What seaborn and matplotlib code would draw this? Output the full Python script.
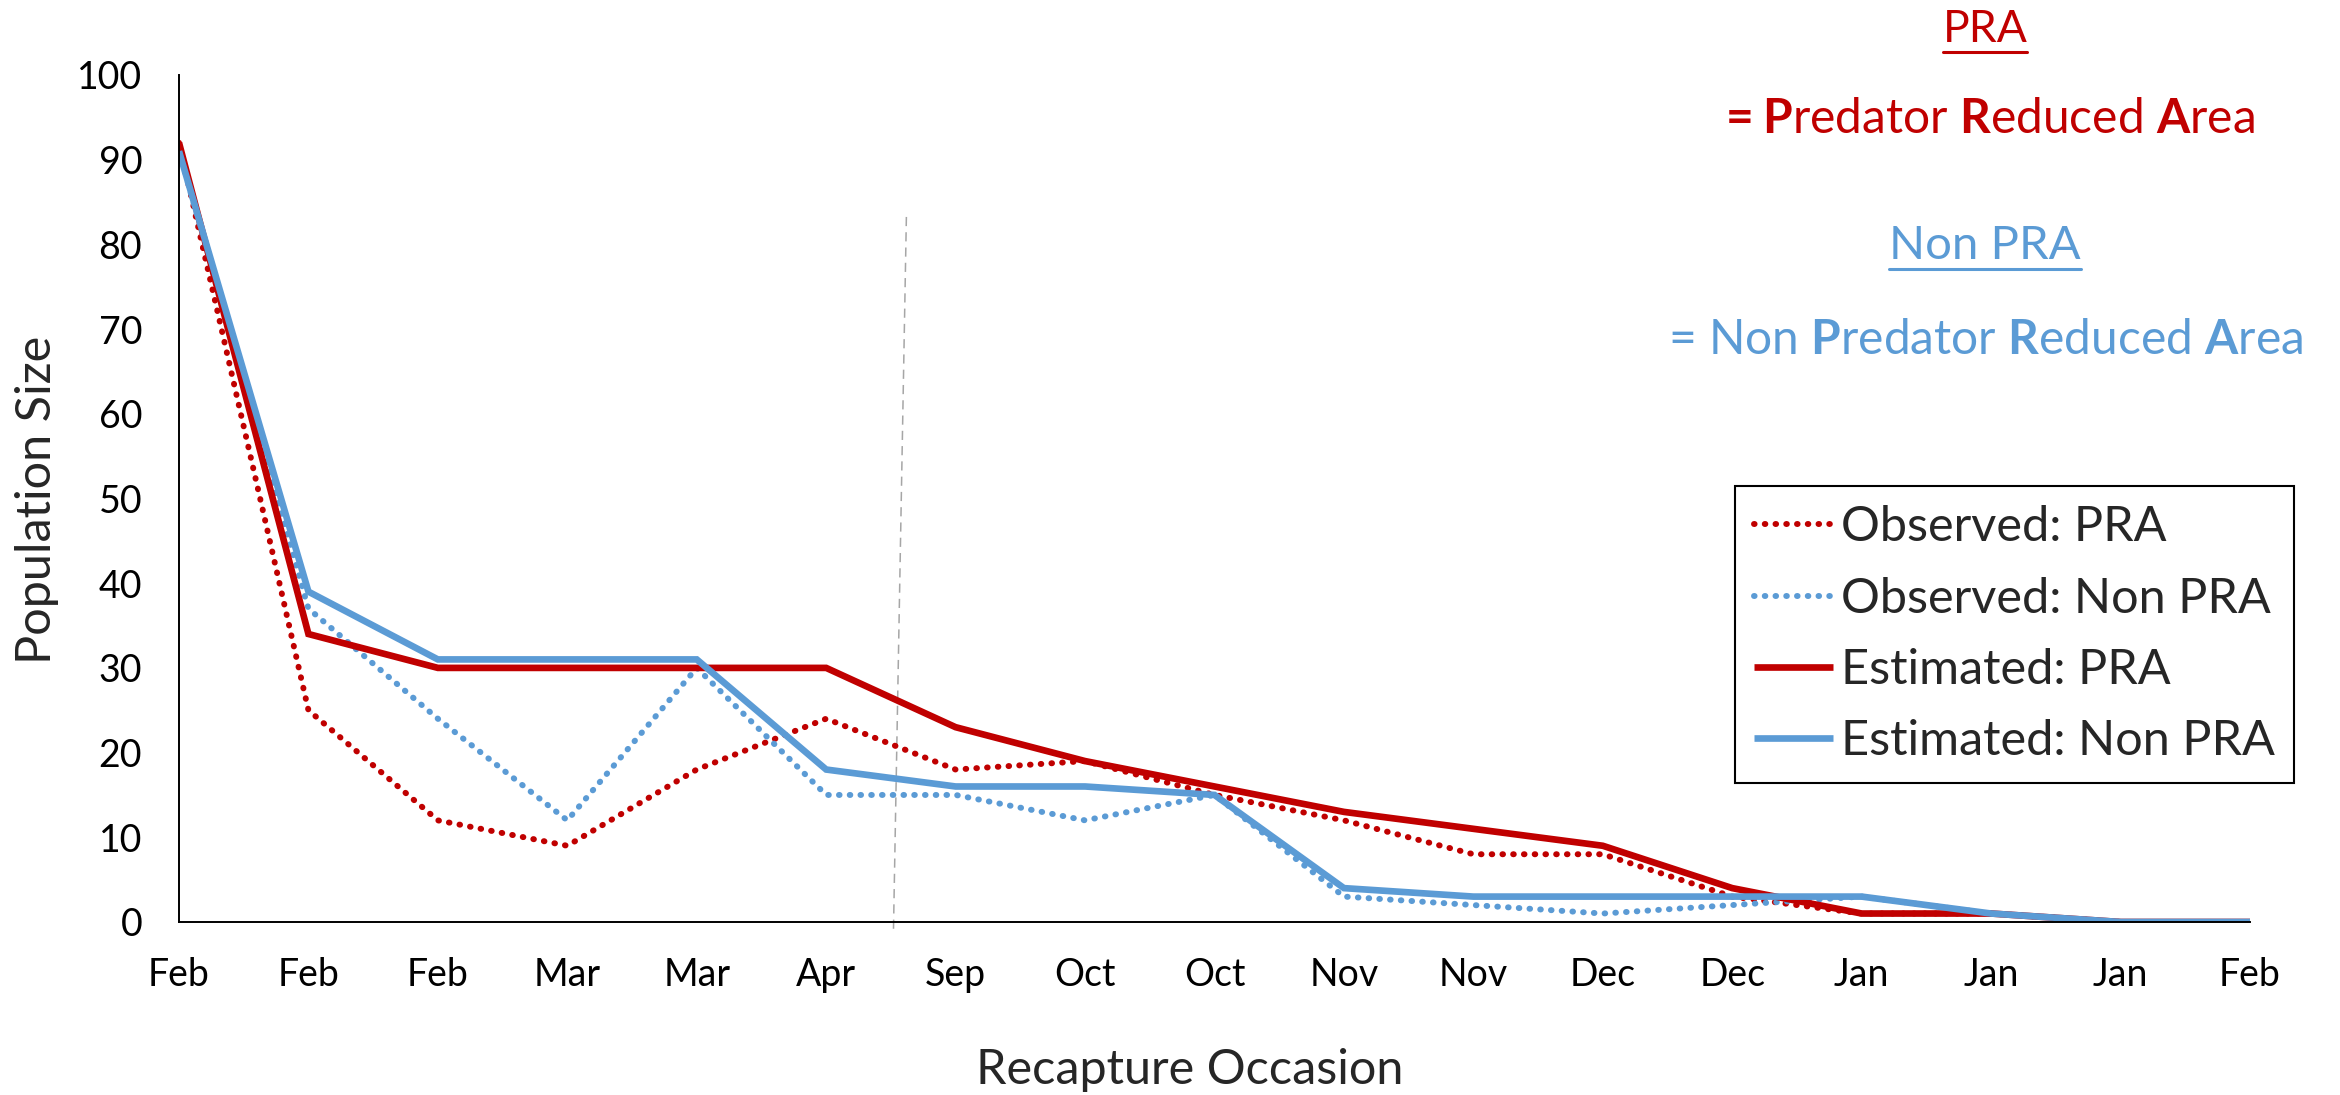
import matplotlib
matplotlib.use("Agg")
import matplotlib.pyplot as plt
from matplotlib.lines import Line2D
import seaborn as sns
import pandas as pd

# ---------------- data ----------------
occasions = ["Feb", "Feb", "Feb", "Mar", "Mar", "Apr", "Sep", "Oct", "Oct",
             "Nov", "Nov", "Dec", "Dec", "Jan", "Jan", "Jan", "Feb"]
observed_pra = [92, 25, 12, 9, 18, 24, 18, 19, 15, 12, 8, 8, 3, 1, 1, 0, 0]
observed_non_pra = [91, 37, 24, 12, 30, 15, 15, 12, 15, 3, 2, 1, 2, 3, 1, 0, 0]
estimated_pra = [92, 34, 30, 30, 30, 30, 23, 19, 16, 13, 11, 9, 4, 1, 1, 0, 0]
estimated_non_pra = [91, 39, 31, 31, 31, 18, 16, 16, 15, 4, 3, 3, 3, 3, 1, 0, 0]
series_names = ["Observed: PRA", "Observed: Non PRA", "Estimated: PRA", "Estimated: Non PRA"]
y_ticks = [0, 10, 20, 30, 40, 50, 60, 70, 80, 90, 100]
separator_x = (5.52, 5.62)   # season break between Apr and Sep
separator_y = (-0.8, 83.6)

RED = "#C00000"
BLUE = "#5B9BD5"

sns.set_style("white")
plt.rcParams["font.family"] = ["Lato", "DejaVu Sans"]
plt.rcParams["mathtext.fontset"] = "custom"
plt.rcParams["mathtext.rm"] = "Lato"
plt.rcParams["mathtext.bf"] = "Lato:bold"

W, H = 2340, 1095
fig = plt.figure(figsize=(W / 100, H / 100), dpi=100)
ax = fig.add_axes([179 / W, 1 - 922 / H, (2250 - 179) / W, (922 - 75) / H])

x = list(range(len(occasions)))
df = pd.DataFrame({"x": x,
                   series_names[0]: observed_pra,
                   series_names[1]: observed_non_pra,
                   series_names[2]: estimated_pra,
                   series_names[3]: estimated_non_pra})

styles = [
    (series_names[0], RED, (0, (0.1, 1.7)), 4.3),
    (series_names[1], BLUE, (0, (0.1, 1.7)), 4.3),
    (series_names[2], RED, "-", 4.8),
    (series_names[3], BLUE, "-", 4.8),
]
for name, col, ls, lw in styles:
    sns.lineplot(data=df, x="x", y=name, ax=ax, color=col, linewidth=lw,
                 label=name, sort=False)
for line, (name, col, ls, lw) in zip(ax.get_lines(), styles):
    line.set_linestyle(ls)
    line.set_dash_capstyle("round")
    line.set_solid_capstyle("butt")
    line.set_solid_joinstyle("miter")

# season separator
ax.plot(separator_x, separator_y, color="#A6A6A6", linewidth=1.1,
        linestyle=(0, (6, 4)), clip_on=False, zorder=1)

ax.set_xlim(0, len(occasions) - 1)
ax.set_ylim(0, 100)
ax.set_xticks(x)
ax.set_xticklabels(occasions)
ax.set_yticks(y_ticks)

for s in ["top", "right"]:
    ax.spines[s].set_visible(False)
for s in ["left", "bottom"]:
    ax.spines[s].set_color("black")
    ax.spines[s].set_linewidth(1.4)

ax.tick_params(axis="both", which="major", direction="out", length=9.5, width=1.3,
               color="black", labelsize=27, labelcolor="black")
ax.tick_params(axis="x", pad=16)
ax.tick_params(axis="y", pad=17)

ax.set_xlabel("Recapture Occasion", fontsize=35, va="center")
ax.xaxis.set_label_coords((1190 - 179) / 2071, (922 - 1070) / 847)
ax.set_ylabel("Population Size", fontsize=35, va="center")
ax.yaxis.set_label_coords((37 - 179) / 2071, (922 - 500) / 847)

leg = ax.legend(loc="upper right", bbox_to_anchor=(2294 / W, 1 - 486 / H),
                bbox_transform=fig.transFigure, borderaxespad=0,
                fontsize=35, frameon=True, fancybox=False, framealpha=1,
                edgecolor="black", handlelength=1.63, handletextpad=0.15,
                labelspacing=0.56, borderpad=0.4)
leg.get_frame().set_linewidth(1.5)

# annotation text (top right)
cx = 1985 / W
t1 = fig.text(cx, 1 - 30 / H, "PRA", color=RED, fontsize=32, ha="center", va="center")
fig.text(cx, 1 - 119 / H, r"$\mathbf{=P}$redator $\mathbf{R}$educed $\mathbf{A}$rea",
         color=RED, fontsize=34.5, ha="center", va="center")
t2 = fig.text(cx, 1 - 246 / H, "Non PRA", color=BLUE, fontsize=34, ha="center", va="center")
fig.text(cx, 1 - 340 / H, r"= Non $\mathbf{P}$redator $\mathbf{R}$educed $\mathbf{A}$rea",
         color=BLUE, fontsize=34.5, ha="center", va="center")

fig.canvas.draw()
r = fig.canvas.get_renderer()
for t, col, uy in [(t1, RED, 52), (t2, BLUE, 269)]:
    bb = t.get_window_extent(r)
    y = 1 - uy / H
    fig.add_artist(Line2D([bb.x0 / W, bb.x1 / W], [y, y], color=col, linewidth=2.2,
                          transform=fig.transFigure))

fig.savefig("out.png", dpi=100)
